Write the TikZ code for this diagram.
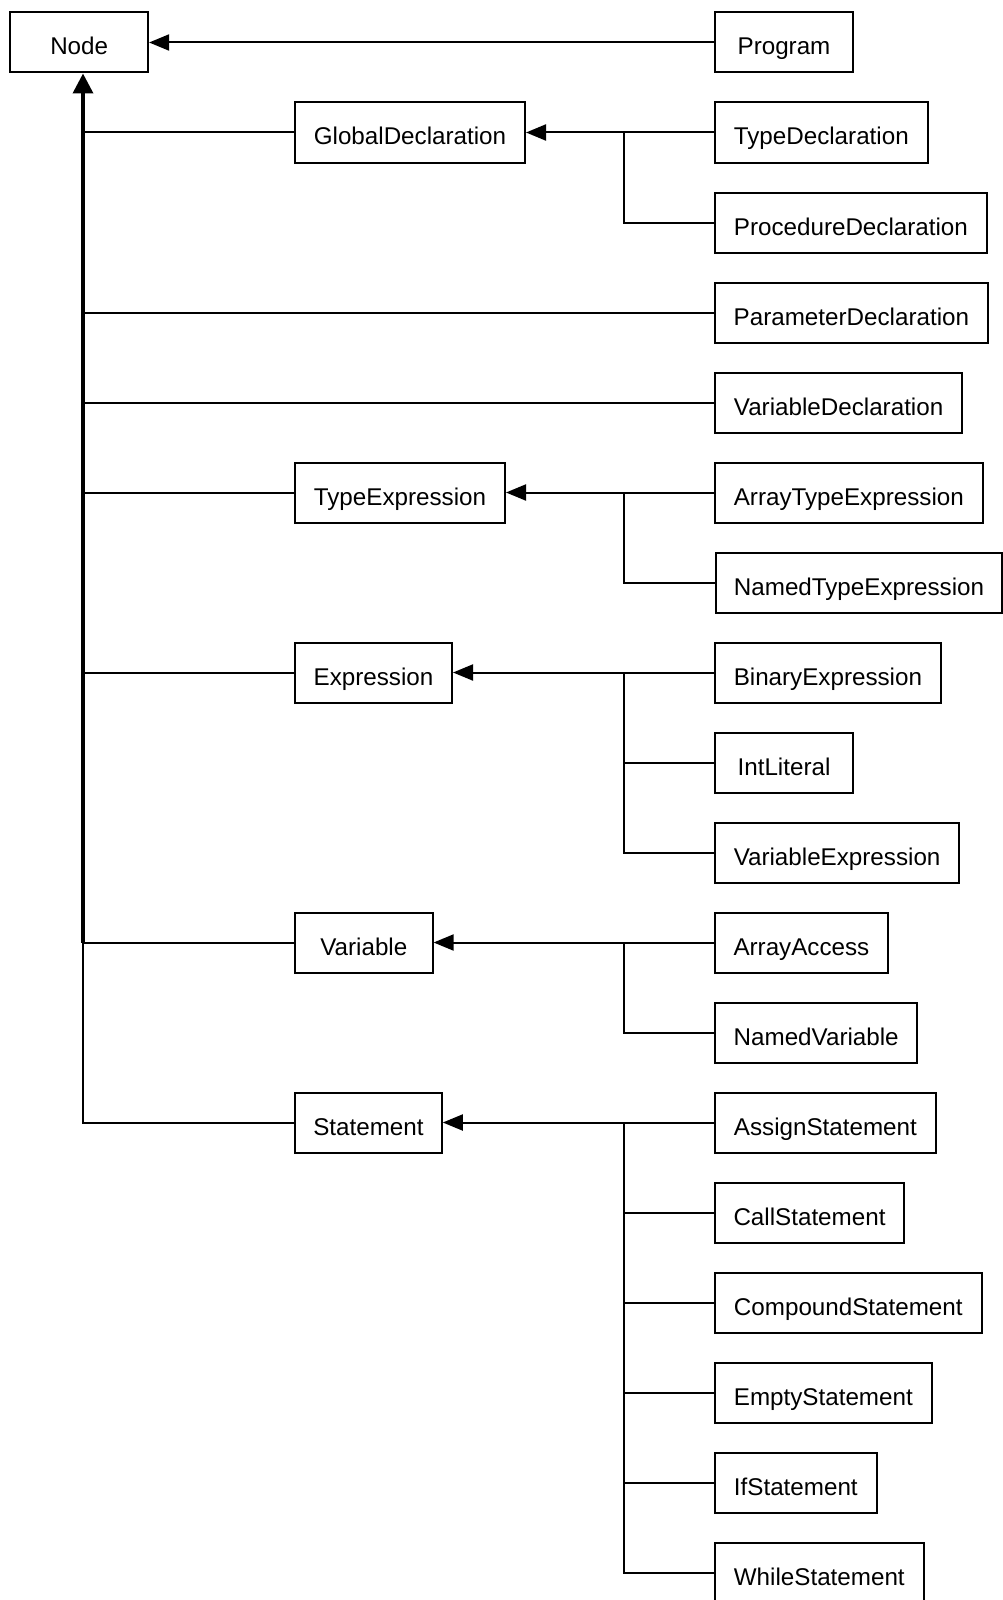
\documentclass[tikz,border=0pt]{standalone}
\usepackage{fontspec}
\setmainfont{Liberation Sans}
\usetikzlibrary{arrows.meta}
\begin{document}
\begin{tikzpicture}[x=0.5pt,y=-0.5pt,
  box/.style={draw, line width=1pt, minimum height=30pt, inner sep=0pt, anchor=west,
    font=\fontsize{12.1pt}{14pt}\selectfont, text height=12.5pt, text depth=0pt},
  link/.style={line width=1pt},
  inh/.style={line width=1pt, -{Triangle[length=10pt,width=8pt]}},
  trunk/.style={line width=1.8pt, -{Triangle[length=10pt,width=10pt]}}]
\useasboundingbox (0,0) rectangle (1002,1600);
\coordinate (T) at (83,0);
\coordinate (J) at (624,0);
% nodes
\node[box, minimum width=68.9pt] (node) at (9.3,42.5) {Node};
\node[box, minimum width=69pt] (program) at (714,42.5) {Program};
\node[box, minimum width=115pt] (gd) at (294,132.5) {GlobalDeclaration};
\node[box, minimum width=106.3pt] (td) at (714,132.5) {TypeDeclaration};
\node[box, minimum width=135.9pt] (prd) at (714,222.5) {ProcedureDeclaration};
\node[box, minimum width=136.4pt] (pad) at (714,312.5) {ParameterDeclaration};
\node[box, minimum width=123.6pt] (vd) at (714,402.5) {VariableDeclaration};
\node[box, minimum width=105pt] (te) at (294,492.5) {TypeExpression};
\node[box, minimum width=133.8pt] (ate) at (714,492.5) {ArrayTypeExpression};
\node[box, minimum width=143pt] (nte) at (715,582.5) {NamedTypeExpression};
\node[box, minimum width=78.5pt] (ex) at (294,672.5) {Expression};
\node[box, minimum width=112.9pt] (be) at (714,672.5) {BinaryExpression};
\node[box, minimum width=69pt] (il) at (714,762.5) {IntLiteral};
\node[box, minimum width=122.1pt] (ve) at (714,852.5) {VariableExpression};
\node[box, minimum width=68.8pt] (var) at (294,942.5) {Variable};
\node[box, minimum width=86.4pt] (aa) at (714,942.5) {ArrayAccess};
\node[box, minimum width=101.2pt] (nv) at (714,1032.5) {NamedVariable};
\node[box, minimum width=73.4pt] (st) at (294,1122.5) {Statement};
\node[box, minimum width=110.4pt] (as) at (714,1122.5) {AssignStatement};
\node[box, minimum width=94.5pt] (cs) at (714,1212.5) {CallStatement};
\node[box, minimum width=133.3pt] (cps) at (714,1302.5) {CompoundStatement};
\node[box, minimum width=108.3pt] (es) at (714,1392.5) {EmptyStatement};
\node[box, minimum width=80.8pt] (is) at (714,1482.5) {IfStatement};
\node[box, minimum width=104.3pt] (ws) at (714,1572.5) {WhileStatement};
% Program -> Node
\draw[inh] (program.west) -- (node.east);
% trunk
\draw[trunk] (var.west -| T) -- (node.south -| T);
\draw[link] (st.west) -| (var.west -| T);
\foreach \n in {gd,pad,vd,te,ex,var}{\draw[link] (\n.west) -- (\n.west -| T);}
% GlobalDeclaration
\draw[inh] (td.west) -- (gd.east);
\draw[link] (prd.west) -| (td.west -| J);
% TypeExpression
\draw[inh] (ate.west) -- (te.east);
\draw[link] (nte.west) -| (ate.west -| J);
% Expression
\draw[inh] (be.west) -- (ex.east);
\draw[link] (ve.west) -| (be.west -| J);
\draw[link] (il.west) -- (il.west -| J);
% Variable
\draw[inh] (aa.west) -- (var.east);
\draw[link] (nv.west) -| (aa.west -| J);
% Statement
\draw[inh] (as.west) -- (st.east);
\draw[link] (ws.west) -| (as.west -| J);
\foreach \n in {cs,cps,es,is}{\draw[link] (\n.west) -- (\n.west -| J);}
\end{tikzpicture}
\end{document}
